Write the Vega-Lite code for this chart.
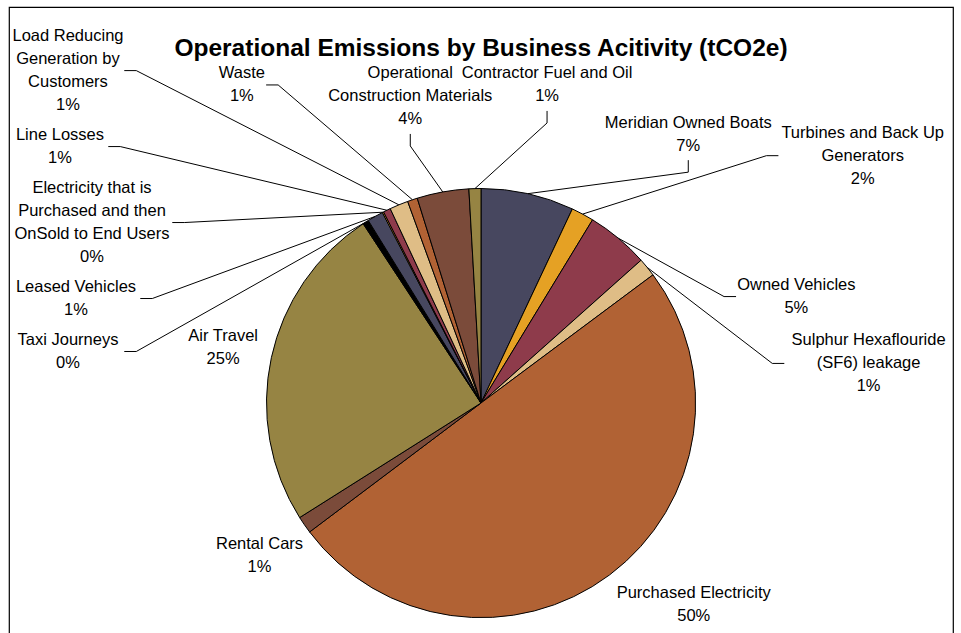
{
  "$schema": "https://vega.github.io/schema/vega-lite/v6.json",
  "width": 944,
  "height": 792,
  "autosize": "none",
  "padding": {"left": 9, "top": 7, "right": 8, "bottom": 0},
  "background": "white",
  "title": {
    "text": "Operational Emissions by Business Acitivity (tCO2e)",
    "anchor": "middle",
    "frame": "group",
    "offset": -73,
    "baseline": "alphabetic",
    "font": "Liberation Sans",
    "fontSize": 24.5,
    "fontWeight": "bold",
    "color": "#000000"
  },
  "config": {
    "view": {"stroke": "#000000", "strokeWidth": 1.2},
    "font": "Liberation Sans"
  },
  "data": {
    "values": [
      {"name": "Meridian Owned Boats", "share": 7.0},
      {"name": "Turbines and Back Up\nGenerators", "share": 1.7},
      {"name": "Owned Vehicles", "share": 4.7},
      {"name": "Sulphur Hexaflouride\n(SF6) leakage", "share": 1.4},
      {"name": "Purchased Electricity", "share": 49.9},
      {"name": "Rental Cars", "share": 1.3},
      {"name": "Air Travel", "share": 24.7},
      {"name": "Taxi Journeys", "share": 0.45},
      {"name": "Leased Vehicles", "share": 1.2},
      {"name": "Electricity that is\nPurchased and then\nOnSold to End Users", "share": 0.1},
      {"name": "Line Losses", "share": 0.55},
      {"name": "Load Reducing\nGeneration by\nCustomers", "share": 1.4},
      {"name": "Waste", "share": 0.75},
      {"name": "Operational\nConstruction Materials", "share": 3.9},
      {"name": "Contractor Fuel and Oil", "share": 0.9}
    ]
  },
  "transform": [
    {"window": [{"op": "row_number", "as": "idx"}]},
    {"joinaggregate": [{"op": "sum", "field": "share", "as": "total"}]},
    {"window": [{"op": "sum", "field": "share", "as": "cum"}], "sort": [{"field": "idx"}], "frame": [null, 0]},
    {"calculate": "(datum.cum - datum.share / 2) / datum.total * 360", "as": "mid"},
    {"calculate": "datum.name + '\\n' + format(datum.share / datum.total, '.0%')", "as": "label"},
    {"calculate": "split(datum.label, '\\n')", "as": "parts"},
    {"calculate": "length(datum.parts)", "as": "nl"},
    {"calculate": "max(length(datum.parts[0]), datum.nl > 1 ? length(datum.parts[1]) : 0, datum.nl > 2 ? length(datum.parts[2]) : 0, datum.nl > 3 ? length(datum.parts[3]) : 0)", "as": "chars"},
    {"calculate": "datum.chars * 0.01865", "as": "w"},
    {"calculate": "datum.nl * 0.0536", "as": "h"},
    {"calculate": "datum.mid > 320 && datum.mid < 340 ? 'col' : datum.mid >= 340 ? 'top' : datum.mid < 90 ? 'right' : 'out'", "as": "grp"},
    {"calculate": "(datum.grp == 'right' ? 22 + 1.24 * datum.mid : datum.grp == 'top' ? 351.2 + (datum.mid - 351.2) * 2.86 : datum.mid) * PI / 180", "as": "la"},
    {"window": [{"op": "sum", "field": "nl", "as": "cumNl"}, {"op": "row_number", "as": "k"}], "groupby": ["grp"], "sort": [{"field": "idx"}], "frame": [null, 0]},
    {"calculate": "datum.grp == 'right' ? 0.27 + (datum.k % 2 == 0 ? 0.45 : 0) : 0.025", "as": "gapR"},
    {"calculate": "1 + datum.gapR + datum.w * abs(sin(datum.la)) + datum.h * abs(cos(datum.la))", "as": "rOut"},
    {"calculate": "datum.grp == 'col' ? 0.1329 + (datum.cumNl - datum.nl / 2) * 0.1072 + (datum.k - 1) * 0.0326 : datum.grp == 'top' ? 1.59 - datum.h : max(datum.rOut * cos(datum.la), -1.045 + datum.h)", "as": "cy"},
    {"calculate": "datum.grp == 'col' ? -2.168 + datum.w : datum.grp == 'top' ? datum.cy * tan(datum.la) : datum.grp == 'right' ? min(datum.rOut * sin(datum.la), 2.18 - datum.w) : datum.rOut * sin(datum.la)", "as": "cx0"},
    {"calculate": "datum.grp == 'out' && datum.rOut * cos(datum.la) < -1.045 + datum.h ? (datum.cx0 < 0 ? -1 : 1) * max(abs(datum.cx0), sqrt(max(0, 1.05 - pow(abs(datum.cy) - datum.h, 2))) + datum.w) : datum.cx0", "as": "cx"},
    {"calculate": "datum.cy + (datum.nl - 1) * 0.0536", "as": "ty"},
    {"calculate": "sin(datum.mid * PI / 180)", "as": "px"},
    {"calculate": "cos(datum.mid * PI / 180)", "as": "py"},
    {"calculate": "abs((datum.px - datum.cx) / datum.w) >= 0.9 * abs((datum.py - datum.cy) / datum.h)", "as": "side"},
    {"calculate": "datum.px > datum.cx ? 1 : -1", "as": "sx"},
    {"calculate": "datum.py > datum.cy ? 1 : -1", "as": "sy"},
    {"calculate": "datum.side ? datum.cx + datum.sx * (datum.w + 0.02) : datum.cx", "as": "ax"},
    {"calculate": "datum.side ? datum.cy : datum.cy + datum.sy * (datum.h + 0.014)", "as": "ay"},
    {"calculate": "datum.side ? datum.ax + datum.sx * 0.056 : datum.ax", "as": "ex"},
    {"calculate": "datum.side ? datum.ay : datum.ay + datum.sy * 0.056", "as": "ey"}
  ],
  "layer": [
    {
      "mark": {"type": "arc", "outerRadius": 214.5, "stroke": "#000000", "strokeWidth": 1},
      "encoding": {
        "theta": {"field": "share", "type": "quantitative", "stack": true},
        "order": {"field": "idx", "type": "quantitative"},
        "color": {
          "field": "name",
          "type": "nominal",
          "legend": null,
          "scale": {
            "domain": [
              "Meridian Owned Boats",
              "Turbines and Back Up\nGenerators",
              "Owned Vehicles",
              "Sulphur Hexaflouride\n(SF6) leakage",
              "Purchased Electricity",
              "Rental Cars",
              "Air Travel",
              "Taxi Journeys",
              "Leased Vehicles",
              "Electricity that is\nPurchased and then\nOnSold to End Users",
              "Line Losses",
              "Load Reducing\nGeneration by\nCustomers",
              "Waste",
              "Operational\nConstruction Materials",
              "Contractor Fuel and Oil"
            ],
            "range": [
              "#47475f", "#e5a124", "#8e3b4b", "#dfbd86", "#b16234",
              "#7b4b3a", "#968443", "#000000", "#47475f", "#e5a124",
              "#8e3b4b", "#dfbd86", "#b16234", "#7b4b3a", "#968443"
            ]
          }
        }
      }
    },
    {
      "transform": [{"filter": "datum.grp != 'out'"}],
      "mark": {"type": "rule", "color": "#000000", "strokeWidth": 1},
      "encoding": {
        "x": {"field": "px", "type": "quantitative", "axis": null, "scale": {"domain": [-2.2005, 2.2005], "nice": false, "zero": false}},
        "y": {"field": "py", "type": "quantitative", "axis": null, "scale": {"domain": [-1.8462, 1.8462], "nice": false, "zero": false}},
        "x2": {"field": "ex"},
        "y2": {"field": "ey"}
      }
    },
    {
      "transform": [{"filter": "datum.grp != 'out'"}],
      "mark": {"type": "rule", "color": "#000000", "strokeWidth": 1},
      "encoding": {
        "x": {"field": "ex", "type": "quantitative", "axis": null},
        "y": {"field": "ey", "type": "quantitative", "axis": null},
        "x2": {"field": "ax"},
        "y2": {"field": "ay"}
      }
    },
    {
      "mark": {
        "type": "text",
        "align": "center",
        "baseline": "middle",
        "lineBreak": "\n",
        "lineHeight": 23,
        "font": "Liberation Sans",
        "fontSize": 16.5,
        "color": "#000000"
      },
      "encoding": {
        "x": {"field": "cx", "type": "quantitative", "axis": null},
        "y": {"field": "ty", "type": "quantitative", "axis": null},
        "text": {"field": "label"}
      }
    }
  ]
}
